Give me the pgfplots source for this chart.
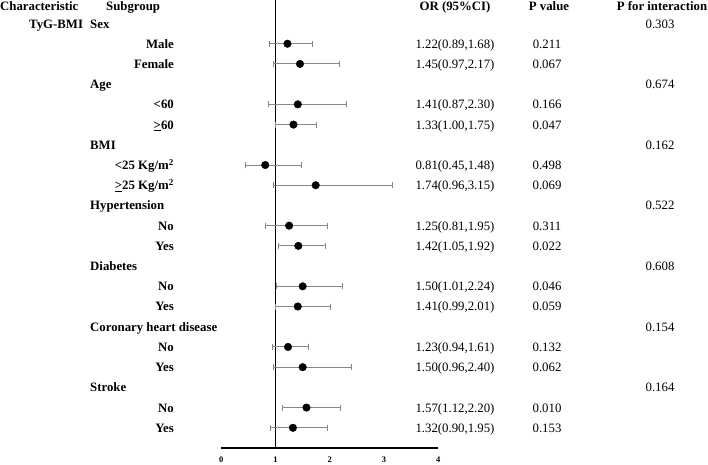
\documentclass[border=0pt]{standalone}
\usepackage{fontspec}
\setmainfont{Liberation Serif}
\usepackage{pgfplots}
\pgfplotsset{compat=1.18}
\usepackage{pgfplotstable}
\definecolor{errgray}{RGB}{135,135,135}

% or, y (negative row index), CI upper - or, or - CI lower
\pgfplotstableread{
or   y    ep    em
1.22 -2   0.46  0.33
1.45 -3   0.72  0.48
1.41 -5   0.89  0.54
1.33 -6   0.42  0.33
0.81 -8   0.67  0.36
1.74 -9   1.41  0.78
1.25 -11  0.70  0.44
1.42 -12  0.50  0.37
1.50 -14  0.74  0.49
1.41 -15  0.60  0.42
1.23 -17  0.38  0.29
1.50 -18  0.90  0.54
1.57 -20  0.63  0.45
1.32 -21  0.63  0.42
}\ordata

\newcommand{\by}[1]{-(7.8+20.21*#1)}
\newcommand{\grp}[2]{\node[anchor=base west,inner sep=0,font=\bfseries] at (90,{\by{#1}}) {#2};}
\newcommand{\sub}[2]{\node[anchor=base east,inner sep=0,font=\bfseries] at (174,{\by{#1}}) {#2};}
\newcommand{\orv}[2]{\node[anchor=base,inner sep=0] at (455,{\by{#1}}) {#2};}
\newcommand{\pv}[2]{\node[anchor=base,inner sep=0] at (547,{\by{#1}}) {#2};}
\newcommand{\pint}[2]{\node[anchor=base,inner sep=0] at (660,{\by{#1}}) {#2};}
\newcommand{\ugt}{\underline{>}}

\begin{document}
\fontsize{12.8}{15}\selectfont
\begin{tikzpicture}[x=1pt,y=1pt]
\path[use as bounding box] (0,0) rectangle (708,-464);
\begin{axis}[
  at={(221.3pt,-448pt)}, anchor=south west,
  scale only axis, width=217pt, height=448pt,
  xmin=0, xmax=4, ymin=-22, ymax=0.163,
  axis x line=bottom, axis y line=none,
  x axis line style={-, line width=1.2pt},
  xtick={0,1,2,3,4}, major tick length=0pt,
  /pgf/number format/assume math mode=true,
  xticklabel style={font=\bfseries\fontsize{8.5}{10}\selectfont, yshift=-4pt},
  clip=false,
]
\addplot[black, line width=1.5pt] coordinates {(1,0.163) (1,-22)};
\addplot[only marks, mark=*, mark size=3.8pt, black,
  error bars/.cd, x dir=both, x explicit,
  error mark=|,
  error bar style={errgray, line width=0.9pt},
  error mark options={errgray, mark size=3pt, line width=0.9pt}]
  table[x=or, y=y, x error plus=ep, x error minus=em] {\ordata};
\end{axis}

% headers
\node[anchor=base west,inner sep=0,font=\bfseries] at (0,-10) {Characteristic};
\node[anchor=base west,inner sep=0,font=\bfseries] at (106,-10) {Subgroup};
\node[anchor=base,inner sep=0,font=\bfseries] at (455,-10) {OR (95\%CI)};
\node[anchor=base,inner sep=0,font=\bfseries] at (549,-10) {P value};
\node[anchor=base,inner sep=0,font=\bfseries] at (662,-10) {P for interaction};

\node[anchor=base west,inner sep=0,font=\bfseries] at (29,{\by{1}}) {TyG-BMI};

\grp{1}{Sex} \pint{1}{0.303}
\sub{2}{Male} \orv{2}{1.22(0.89,1.68)} \pv{2}{0.211}
\sub{3}{Female} \orv{3}{1.45(0.97,2.17)} \pv{3}{0.067}
\grp{4}{Age} \pint{4}{0.674}
\sub{5}{<60} \orv{5}{1.41(0.87,2.30)} \pv{5}{0.166}
\sub{6}{\ugt60} \orv{6}{1.33(1.00,1.75)} \pv{6}{0.047}
\grp{7}{BMI} \pint{7}{0.162}
\sub{8}{<25 Kg/m\textsuperscript{2}} \orv{8}{0.81(0.45,1.48)} \pv{8}{0.498}
\sub{9}{\ugt25 Kg/m\textsuperscript{2}} \orv{9}{1.74(0.96,3.15)} \pv{9}{0.069}
\grp{10}{Hypertension} \pint{10}{0.522}
\sub{11}{No} \orv{11}{1.25(0.81,1.95)} \pv{11}{0.311}
\sub{12}{Yes} \orv{12}{1.42(1.05,1.92)} \pv{12}{0.022}
\grp{13}{Diabetes} \pint{13}{0.608}
\sub{14}{No} \orv{14}{1.50(1.01,2.24)} \pv{14}{0.046}
\sub{15}{Yes} \orv{15}{1.41(0.99,2.01)} \pv{15}{0.059}
\grp{16}{Coronary heart disease} \pint{16}{0.154}
\sub{17}{No} \orv{17}{1.23(0.94,1.61)} \pv{17}{0.132}
\sub{18}{Yes} \orv{18}{1.50(0.96,2.40)} \pv{18}{0.062}
\grp{19}{Stroke} \pint{19}{0.164}
\sub{20}{No} \orv{20}{1.57(1.12,2.20)} \pv{20}{0.010}
\sub{21}{Yes} \orv{21}{1.32(0.90,1.95)} \pv{21}{0.153}
\end{tikzpicture}
\end{document}
